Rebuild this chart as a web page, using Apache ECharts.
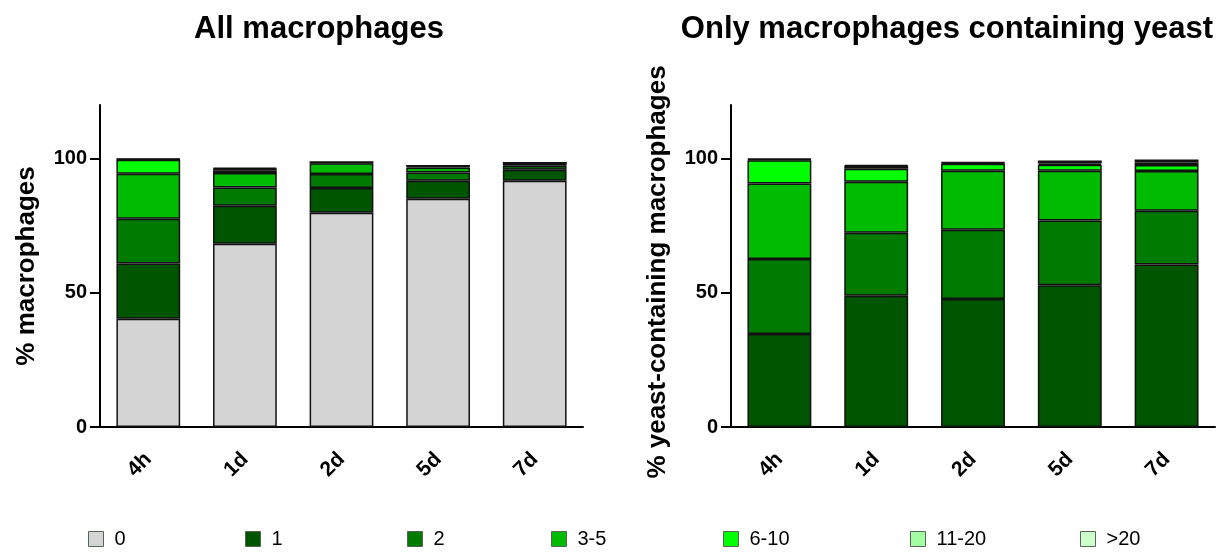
<!DOCTYPE html>
<html>
<head>
<meta charset="utf-8">
<script src="https://cdn.jsdelivr.net/npm/echarts@6/dist/echarts.min.js"></script>
<style>html,body{margin:0;padding:0;background:#fff}#c{width:1227px;height:555px}</style>
</head>
<body>
<div id="c"></div>
<script>
const categories = ['4h', '1d', '2d', '5d', '7d'];
const seriesNames = ['0', '1', '2', '3-5', '6-10', '11-20', '>20'];
const seriesColors = ['#d4d4d4', '#005500', '#007a00', '#00bb00', '#00ff00', '#a2ffa2', '#ccffcc'];
const yTicks = [0, 50, 100];

// All macrophages (% by number of yeast per macrophage)
const all0 = [40.3, 68.3, 79.8, 85.1, 91.8];
const all1 = [20.6, 14.2, 9.3, 6.7, 4.1];
const all2 = [16.7, 6.8, 5.2, 3.0, 1.5];
const all35 = [16.8, 5.4, 4.0, 1.9, 0.8];
const all610 = [5.2, 1.0, 0.3, 0.5, 0.2];
const all1120 = [0.2, 0.6, 0.1, 0.2, 0.1];
const allGt20 = [0.1, 0.3, 0.0, 0.0, 0.0];

// Only yeast-containing macrophages
const yeast1 = [34.7, 48.9, 47.7, 52.8, 60.6];
const yeast2 = [27.9, 23.5, 25.8, 24.2, 20.0];
const yeast35 = [28.1, 19.0, 22.0, 18.5, 14.8];
const yeast610 = [8.7, 4.8, 2.6, 2.2, 2.2];
const yeast1120 = [0.4, 1.1, 0.4, 0.5, 1.0];
const yeastGt20 = [0.2, 0.3, 0.2, 1.1, 1.1];

const allData = [all0, all1, all2, all35, all610, all1120, allGt20];
const yeastData = [null, yeast1, yeast2, yeast35, yeast610, yeast1120, yeastGt20];

const FONT = 'Liberation Sans, Arial, sans-serif';

function xAxis(gi) {
  return {
    type: 'category', gridIndex: gi, data: categories,
    axisLine: { lineStyle: { color: '#000', width: 2 } },
    axisTick: { alignWithLabel: true, length: 8, lineStyle: { color: '#000', width: 2 } },
    axisLabel: { rotate: 45, margin: 29, color: '#000', fontSize: 21, fontWeight: 'bold', fontFamily: FONT }
  };
}
function yAxis(gi, name, gap, pad) {
  return {
    type: 'value', gridIndex: gi, min: 0, max: 120, interval: 50,
    name: name, nameLocation: 'middle', nameGap: gap, nameRotate: 90,
    nameTextStyle: { color: '#000', fontSize: 26, fontWeight: 'bold', fontFamily: FONT, padding: pad },
    splitLine: { show: false },
    axisLine: { show: true, lineStyle: { color: '#000', width: 2 } },
    axisTick: { show: true, length: 10, customValues: yTicks, lineStyle: { color: '#000', width: 2 } },
    axisLabel: { customValues: yTicks, margin: 13, color: '#000', fontSize: 20, fontWeight: 'bold', fontFamily: FONT }
  };
}

const series = [];
seriesNames.forEach((n, i) => {
  const common = {
    type: 'bar', name: n, barWidth: '66%',
    itemStyle: { color: seriesColors[i], borderColor: '#111', borderWidth: 1.5 },
    emphasis: { disabled: true }, animation: false
  };
  series.push(Object.assign({}, common, { xAxisIndex: 0, yAxisIndex: 0, stack: 'all', data: allData[i] }));
  if (yeastData[i]) {
    series.push(Object.assign({}, common, { xAxisIndex: 1, yAxisIndex: 1, stack: 'yeast', data: yeastData[i] }));
  }
});

const legendLefts = [88, 245, 407, 551, 723, 910, 1080];
const legends = seriesNames.map((n, i) => ({
  data: [n], left: legendLefts[i], top: 529, padding: 0, itemWidth: 15, itemHeight: 15, itemGap: 10,
  icon: 'rect', selectedMode: false,
  itemStyle: { borderColor: '#556655', borderWidth: 1 },
  textStyle: { color: '#000', fontSize: 20, fontFamily: FONT, padding: [0, 0, 0, 6] }
}));

const chart = echarts.init(document.getElementById('c'), null, { renderer: 'canvas' });
chart.setOption({
  animation: false,
  backgroundColor: '#fff',
  title: [
    { text: 'All macrophages', left: 314, top: 9, textAlign: 'center',
      textStyle: { fontSize: 31, fontWeight: 'bold', color: '#000', fontFamily: FONT } },
    { text: 'Only macrophages containing yeast', left: 942, top: 9, textAlign: 'center',
      textStyle: { fontSize: 31, fontWeight: 'bold', color: '#000', fontFamily: FONT } }
  ],
  legend: legends,
  grid: [
    { left: 100, top: 105, width: 483, height: 322 },
    { left: 731, top: 105, width: 484, height: 322 }
  ],
  xAxis: [xAxis(0), xAxis(1)],
  yAxis: [yAxis(0, '% macrophages', 60, [0, 0, 0, 0]), yAxis(1, '% yeast-containing macrophages', 60, [0, 12, 0, 0])],
  series: series
});
</script>
</body>
</html>
